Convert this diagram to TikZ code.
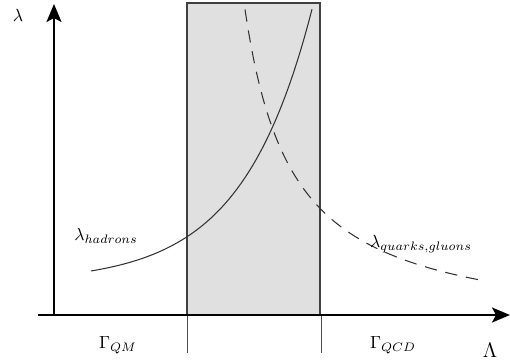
\documentclass[tikz,border=0pt]{standalone}
\usepackage{amsmath}
\usetikzlibrary{arrows.meta,positioning,calc}
\tikzset{
  axis/.style={-{Stealth[length=3.6mm,width=3mm,inset=0.8mm]},line width=1.1pt},
  band/.style={fill=black!12},
  edge/.style={line width=0.7pt,draw=black!75},
  tick/.style={line width=0.5pt,draw=black!70},
  curve/.style={line width=0.6pt,draw=black!80},
  lbl/.style={inner sep=1pt}
}

\begin{document}
\begin{tikzpicture}[x=0.02cm,y=-0.02cm]
  \useasboundingbox (0,0) rectangle (510,362);
  \coordinate (O)  at (54,315);
  \coordinate (xs) at (38,315);
  \coordinate (xe) at (510,315);
  \coordinate (ye) at (54,4);

  % grey window between the two scales
  \fill[band] (187,3) rectangle (320,315);
  \draw[edge] (187,315) -- (187,3) -- (320,3) -- (320,315);
  \draw[tick] (187,315) -- (187,353);
  \draw[tick] (321,315) -- (321,353);

  \draw[axis] (xs) -- (xe);
  \draw[axis] (O) -- (ye);

  \draw[curve] plot[domain=91:312,samples=60] (\x,{282.6-3.17*exp(\x/70)});
  \draw[curve,dash pattern=on 7pt off 5pt]
    plot[domain=245:480,samples=80] (\x,{335-155.58/((\x-197.2)/100)});

  \node[lbl] (lam)  at (18,15)   {$\lambda$};
  \node[lbl] (lhad) at (106,236) {$\lambda_{hadrons}$};
  \node[lbl] (lqg)  at (421,244) {$\lambda_{quarks,gluons}$};
  \node[lbl] (gqm)  at (118,345) {$\Gamma_{QM}$};
  \node[lbl] (gqcd) at (393,345) {$\Gamma_{QCD}$};
  \node[lbl] (Lam)  at (490,350) {\large$\Lambda$};
\end{tikzpicture}
\end{document}
